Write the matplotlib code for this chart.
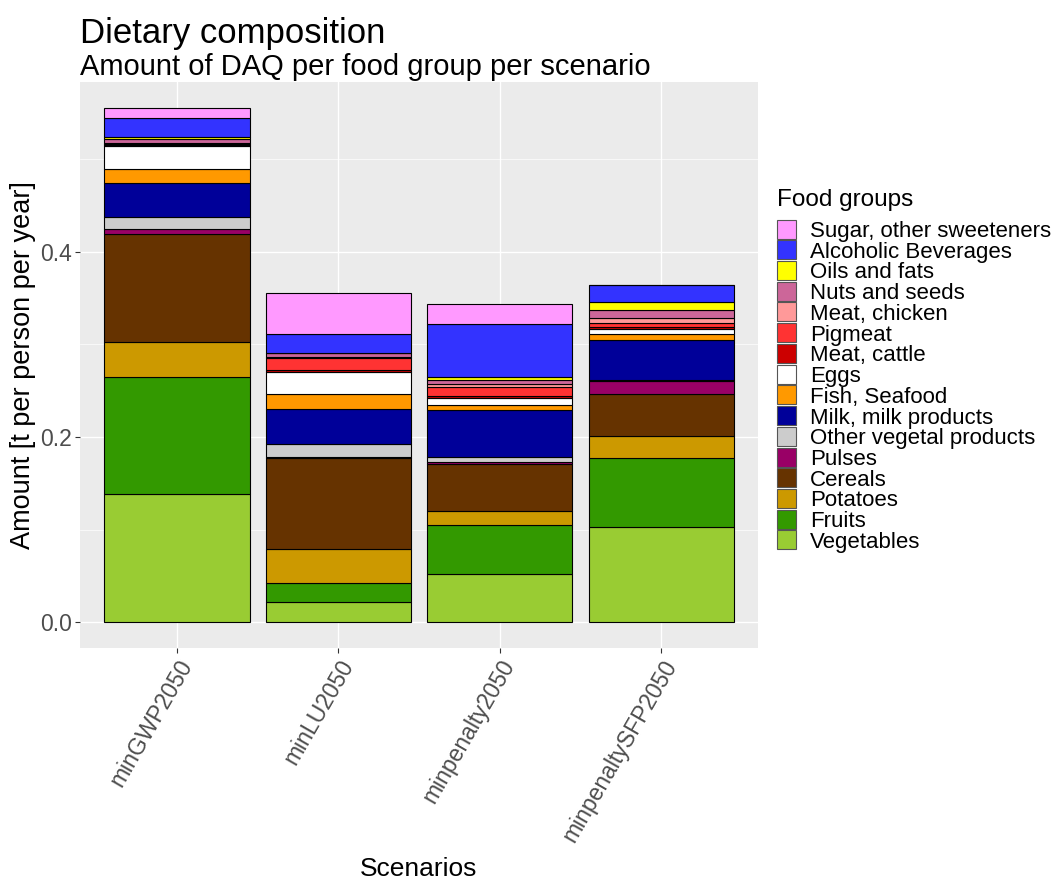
import matplotlib
matplotlib.use("Agg")
import matplotlib.pyplot as plt
from matplotlib.patches import Rectangle
import numpy as np

plt.rcParams['font.family'] = ['Liberation Sans', 'DejaVu Sans']

scenarios = ["minGWP2050", "minLU2050", "minpenalty2050", "minpenaltySFP2050"]

# stacking order bottom -> top
groups = ["Vegetables", "Fruits", "Potatoes", "Cereals", "Pulses",
          "Other vegetal products", "Milk, milk products", "Fish, Seafood",
          "Eggs", "Meat, cattle", "Pigmeat", "Meat, chicken", "Nuts and seeds",
          "Oils and fats", "Alcoholic Beverages", "Sugar, other sweeteners"]

colors = ["#99CC33", "#339900", "#CC9900", "#663300", "#990066",
          "#CCCCCC", "#000099", "#FF9900",
          "#FFFFFF", "#CC0000", "#FF3333", "#FF9999", "#CC6699",
          "#FFFF00", "#3333FF", "#FF99FF"]

vegetables = [0.1383, 0.0214, 0.0525, 0.1026]
fruits     = [0.1262, 0.0207, 0.0522, 0.0743]
potatoes   = [0.0375, 0.0365, 0.0157, 0.0243]
cereals    = [0.1169, 0.0991, 0.0504, 0.0447]
pulses     = [0.0054, 0.0012, 0.0026, 0.0146]
other_veg  = [0.0129, 0.0135, 0.0054, 0.0005]
milk       = [0.0371, 0.0383, 0.0500, 0.0440]
fish       = [0.0154, 0.0161, 0.0061, 0.0057]
eggs       = [0.0242, 0.0233, 0.0075, 0.0054]
cattle     = [0.0015, 0.0025, 0.0016, 0.0025]
pigmeat    = [0.0010, 0.0129, 0.0100, 0.0047]
chicken    = [0.0010, 0.0012, 0.0035, 0.0050]
nuts       = [0.0043, 0.0035, 0.0035, 0.0089]
oils       = [0.0020, 0.0005, 0.0035, 0.0086]
alcohol    = [0.0204, 0.0208, 0.0575, 0.0177]
sugar      = [0.0112, 0.0440, 0.0220, 0.0000]

values = [vegetables, fruits, potatoes, cereals, pulses, other_veg, milk, fish,
          eggs, cattle, pigmeat, chicken, nuts, oils, alcohol, sugar]

W, H = 1052, 882
fig = plt.figure(figsize=(W / 100, H / 100), dpi=100)
ax = fig.add_axes([80 / W, 1 - 648 / H, (758 - 80) / W, (648 - 82) / H])
ax.set_facecolor("#EBEBEB")
for s in ax.spines.values():
    s.set_visible(False)

x = np.arange(1, len(scenarios) + 1)
bottom = np.zeros(len(scenarios))
for vals, col in zip(values, colors):
    v = np.array(vals)
    ax.bar(x, v, width=0.9, bottom=bottom, color=col, edgecolor="black",
           linewidth=0.8, zorder=3)
    bottom += v

ymax = bottom.max()
ax.set_xlim(0.4, len(scenarios) + 0.6)
ax.set_ylim(-0.05 * ymax, 1.05 * ymax)

ax.set_yticks([0.0, 0.2, 0.4])
ax.set_yticklabels(["0.0", "0.2", "0.4"])
ax.set_yticks([0.1, 0.3, 0.5], minor=True)
ax.set_xticks(x)
ax.set_xticklabels(scenarios, rotation=60, ha="right", va="top",
                   rotation_mode="anchor")
ax.grid(True, which="major", color="white", linewidth=1.0, zorder=0)
ax.grid(True, which="minor", axis="y", color="white", linewidth=0.5, zorder=0)
ax.set_axisbelow(True)
ax.tick_params(axis="both", which="major", color="#333333", length=3.5,
               width=0.8, labelcolor="#4D4D4D", labelsize=16.5, pad=2)
ax.tick_params(axis="y", which="minor", length=0)

ax.set_xlabel("Scenarios", fontsize=19, labelpad=8)
ax.set_ylabel("Amount [t per person per year]", fontsize=19.5, labelpad=3)

fig.text(80 / W, 1 - 43 / H, "Dietary composition", fontsize=25,
         ha="left", va="baseline")
fig.text(80 / W, 1 - 75 / H, "Amount of DAQ per food group per scenario",
         fontsize=21, ha="left", va="baseline")

# legend (top: Sugar ... bottom: Vegetables)
fig.text(777 / W, 1 - 200 / H, "Food groups", fontsize=17.5, ha="left",
         va="center")
step = 20.73
y0 = 229
for i, (g, col) in enumerate(zip(groups[::-1], colors[::-1])):
    yc = y0 + i * step
    fig.patches.append(Rectangle((777 / W, 1 - (yc + 9.5) / H), 19 / W, 19 / H,
                                 transform=fig.transFigure, facecolor=col,
                                 edgecolor="#555555", linewidth=0.8))
    fig.text(810 / W, 1 - yc / H, g, fontsize=16, ha="left", va="center_baseline")

fig.savefig("out.png", dpi=100)
